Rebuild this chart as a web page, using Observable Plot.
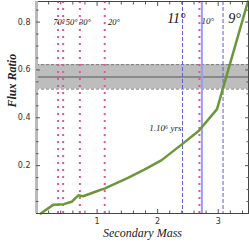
<!DOCTYPE html>
<html>
<head>
<meta charset="utf-8">
<script src="https://cdn.jsdelivr.net/npm/d3@7"></script>
<script src="https://cdn.jsdelivr.net/npm/@observablehq/plot@0.6"></script>
<style>
html,body{margin:0;padding:0;background:#fff;}
svg{display:block;}
</style>
</head>
<body>
<div id="chart"></div>
<script>
// Curve: secondary mass vs flux ratio
const massX = [0.07, 0.28, 0.45, 0.58, 0.69, 0.77, 0.96, 1.13, 1.51, 1.78, 2.06, 2.41, 2.68, 2.98, 3.49];
const fluxY = [0.0, 0.037, 0.039, 0.049, 0.076, 0.072, 0.090, 0.105, 0.149, 0.183, 0.222, 0.291, 0.346, 0.436, 0.886];

// Observed flux ratio band
const bandLow = 0.52, bandMid = 0.57, bandHigh = 0.622;

// Vertical markers
const pinkDotted = [0.356, 0.44, 0.716, 1.126, 2.69];
const blueDashed = [2.41, 3.08];
const blueSolid = [2.73];

// Labels
const angleLabels = ["70°", "50°", "30°", "20°"];
const angleX = [0.375, 0.58, 0.80, 1.28];
const bigLabels = ["11°", "9°"];
const bigX = [2.31, 3.27];
const smallLabels = ["10°"];
const smallX = [2.83];
const ageLabel = ["1.10⁶ yrs"];
const ageX = [2.41];

// Ticks
const xMajor = [1, 2, 3];
const xMinor = [0.2, 0.4, 0.6, 0.8, 1.2, 1.4, 1.6, 1.8, 2.2, 2.4, 2.6, 2.8, 3.2, 3.4];
const yMajor = [0.2, 0.4, 0.6, 0.8];
const yMinor = [0.05, 0.1, 0.15, 0.25, 0.3, 0.35, 0.45, 0.5, 0.55, 0.65, 0.7, 0.75, 0.85];

const curve = massX.map((m, i) => ({m, f: fluxY[i]}));
const serif = "'Liberation Serif', 'DejaVu Serif', serif";
const sans = "'DejaVu Sans', sans-serif";

const tickAxes = (anchor, isX, vals, size) => (isX ? Plot.axisX : Plot.axisY)({
  anchor, ticks: vals, tickSize: -size, tickFormat: () => "", label: null, stroke: "#555"
});

const chart = Plot.plot({
  width: 249,
  height: 251,
  marginLeft: 36,
  marginRight: 1,
  marginTop: 1,
  marginBottom: 38,
  x: {domain: [0, 3.5]},
  y: {domain: [0, 0.886]},
  style: {fontFamily: sans, fontSize: "8px", color: "#333", background: "#fff"},
  marks: [
    Plot.rectY([bandLow], {x1: 0, x2: 3.5, y1: bandLow, y2: bandHigh, fill: "#bdbdbd"}),
    Plot.ruleY([bandLow, bandHigh], {stroke: "#7a7a7a", strokeDasharray: "3,2", strokeWidth: 1}),
    Plot.ruleY([bandMid], {stroke: "#7a7a7a", strokeWidth: 1.5}),
    Plot.ruleX(pinkDotted, {stroke: "#e0589a", strokeWidth: 2, strokeDasharray: "2,5"}),
    Plot.ruleX(blueSolid, {stroke: "#9a9af8", strokeWidth: 2}),
    Plot.ruleX(blueDashed, {stroke: "#5a5ae8", strokeWidth: 1, strokeDasharray: "4,2"}),
    Plot.line(curve, {x: "m", y: "f", stroke: "#6b963a", strokeWidth: 2.5}),
    Plot.text(angleLabels, {x: (d, i) => angleX[i], y: 0.80, text: d => d, fontFamily: serif, fontStyle: "italic", fontSize: 8.5, fill: "#111"}),
    Plot.text(bigLabels, {x: (d, i) => bigX[i], y: 0.815, text: d => d, fontFamily: serif, fontStyle: "italic", fontSize: 14, fill: "#111"}),
    Plot.text(smallLabels, {x: (d, i) => smallX[i], y: 0.805, text: d => d, fontFamily: serif, fontStyle: "italic", fontSize: 9, fill: "#222"}),
    Plot.text(ageLabel, {x: (d, i) => ageX[i], y: 0.355, text: d => d, dx: -1, textAnchor: "end", fontFamily: serif, fontStyle: "italic", fontSize: 9, fill: "#222"}),
    Plot.frame({stroke: "#444", strokeWidth: 1}),
    Plot.ruleX([0], {stroke: "#bbb", strokeWidth: 3}),
    tickAxes("bottom", true, xMajor, 4),
    tickAxes("bottom", true, xMinor, 2.5),
    tickAxes("top", true, xMajor, 4),
    tickAxes("top", true, xMinor, 2.5),
    tickAxes("left", false, yMajor, 4),
    tickAxes("left", false, yMinor, 2.5),
    tickAxes("right", false, yMajor, 4),
    tickAxes("right", false, yMinor, 2.5),
    Plot.axisX({anchor: "bottom", ticks: xMajor, tickSize: 0, tickPadding: 5, label: null, tickFormat: d => d, fill: "#333"}),
    Plot.axisY({anchor: "left", ticks: yMajor, tickSize: 0, tickPadding: 6, label: null, tickFormat: d => d.toFixed(1), fill: "#333"}),
    Plot.text(["Flux Ratio"], {frameAnchor: "left", dx: -24, rotate: -90, text: d => d, fontFamily: serif, fontStyle: "italic", fontWeight: "bold", fontSize: 12, fill: "#222"}),
    Plot.text(["Secondary Mass"], {frameAnchor: "bottom", dy: 23, text: d => d, fontFamily: serif, fontStyle: "italic", fontSize: 12, fill: "#222"})
  ]
});
document.getElementById("chart").appendChild(chart);
</script>
</body>
</html>
